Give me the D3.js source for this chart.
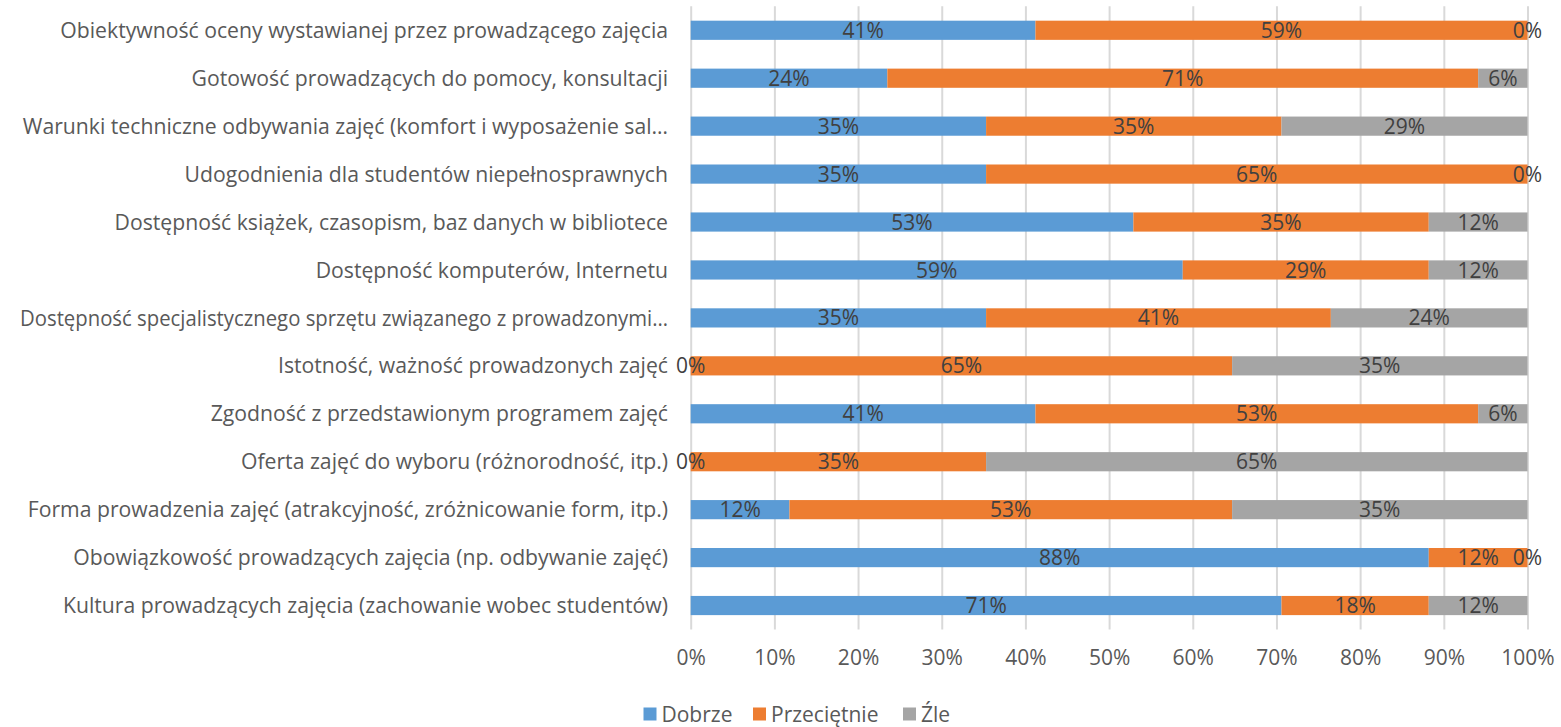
<!DOCTYPE html>
<html>
<head>
<meta charset="utf-8">
<script src="https://cdn.jsdelivr.net/npm/d3@7"></script>
<style>
  html, body { margin: 0; padding: 0; background: #fff; }
  svg { display: block; }
  text { font-family: "Open Sans", "Noto Sans", sans-serif; }
</style>
</head>
<body>
<svg id="chart" width="1561" height="727"></svg>
<script>
const categories = [
  "Obiektywność oceny wystawianej przez prowadzącego zajęcia",
  "Gotowość prowadzących do pomocy, konsultacji",
  "Warunki techniczne odbywania zajęć (komfort i wyposażenie sal…",
  "Udogodnienia dla studentów niepełnosprawnych",
  "Dostępność książek, czasopism, baz danych w bibliotece",
  "Dostępność komputerów, Internetu",
  "Dostępność specjalistycznego sprzętu związanego z prowadzonymi…",
  "Istotność, ważność prowadzonych zajęć",
  "Zgodność z przedstawionym programem zajęć",
  "Oferta zajęć do wyboru (różnorodność, itp.)",
  "Forma prowadzenia zajęć (atrakcyjność, zróżnicowanie form, itp.)",
  "Obowiązkowość prowadzących zajęcia (np. odbywanie zajęć)",
  "Kultura prowadzących zajęcia (zachowanie wobec studentów)"
];
const seriesNames = ["Dobrze", "Przeciętnie", "Źle"];
const dobrze      = [41.2, 23.5, 35.3, 35.3, 52.9, 58.8, 35.3, 0,    41.2, 0,    11.8, 88.2, 70.6];
const przecietnie = [58.8, 70.6, 35.3, 64.7, 35.3, 29.4, 41.2, 64.7, 52.9, 35.3, 52.9, 11.8, 17.6];
const zle         = [0,    5.9,  29.4, 0,    11.8, 11.8, 23.5, 35.3, 5.9,  64.7, 35.3, 0,    11.8];
const tickValues = [0, 10, 20, 30, 40, 50, 60, 70, 80, 90, 100];
const colors = ["#5B9BD5", "#ED7D31", "#A5A5A5"];

const svg = d3.select("#chart");
const FS_CAT = 21.2;
const FS = 21;
const MAX_LABEL_W = 648;

const x = d3.scaleLinear().domain([0, 100]).range([690.7, 1527.5]);
const y = d3.scaleBand().domain(categories).range([6.3, 629.5]).paddingInner(0.6).paddingOuter(0.3);

const rows = categories.map((c, i) => ({cat: c, Dobrze: dobrze[i], "Przeciętnie": przecietnie[i], "Źle": zle[i]}));
const stacked = d3.stack().keys(seriesNames)(rows);

// gridlines
const xAxis = d3.axisBottom(x).tickValues(tickValues).tickSize(-(629.5 - 6.3)).tickFormat(d => d + "%");
const ax = svg.append("g").attr("transform", "translate(0,629.5)").call(xAxis);
ax.select(".domain").remove();
ax.selectAll(".tick line").attr("stroke", "#D9D9D9").attr("stroke-width", 2);
ax.selectAll(".tick text").attr("fill", "#595959").attr("font-size", FS).attr("y", 21).attr("dy", "0.71em")
  .style("font-family", '"Open Sans", sans-serif');

// bars
const g = svg.append("g");
stacked.forEach((s, si) => {
  g.selectAll(null).data(s).enter().append("rect")
    .attr("x", d => x(d[0]))
    .attr("y", d => y(d.data.cat))
    .attr("width", d => Math.max(0, x(d[1]) - x(d[0])))
    .attr("height", y.bandwidth())
    .attr("fill", colors[si]);
});
// labels
stacked.forEach((s, si) => {
  g.selectAll(null).data(s).enter().append("text")
    .attr("x", d => (x(d[0]) + x(d[1])) / 2)
    .attr("y", d => y(d.data.cat) + y.bandwidth() / 2)
    .attr("dy", "0.36em")
    .attr("text-anchor", "middle")
    .attr("fill", "#404040")
    .attr("font-size", FS)
    .text(d => Math.round(d[1] - d[0]) + "%");
});

// category labels
svg.append("g").selectAll("text").data(categories).enter().append("text")
  .attr("x", 668)
  .attr("y", d => y(d) + y.bandwidth() / 2)
  .attr("dy", "0.36em")
  .attr("text-anchor", "end")
  .attr("fill", "#595959")
  .attr("font-size", FS_CAT)
  .text(d => d)
  .each(function() {
    if (this.getComputedTextLength() > MAX_LABEL_W) {
      d3.select(this).attr("textLength", MAX_LABEL_W).attr("lengthAdjust", "spacingAndGlyphs");
    }
  });

// legend
const legendX = [643.5, 753, 903];
const lg = svg.append("g");
seriesNames.forEach((n, i) => {
  lg.append("rect").attr("x", legendX[i]).attr("y", 707.5).attr("width", 13).attr("height", 13).attr("fill", colors[i]);
  lg.append("text").attr("x", legendX[i] + 18).attr("y", 714).attr("dy", "0.36em")
    .attr("fill", "#595959").attr("font-size", FS).text(n);
});
</script>
</body>
</html>
